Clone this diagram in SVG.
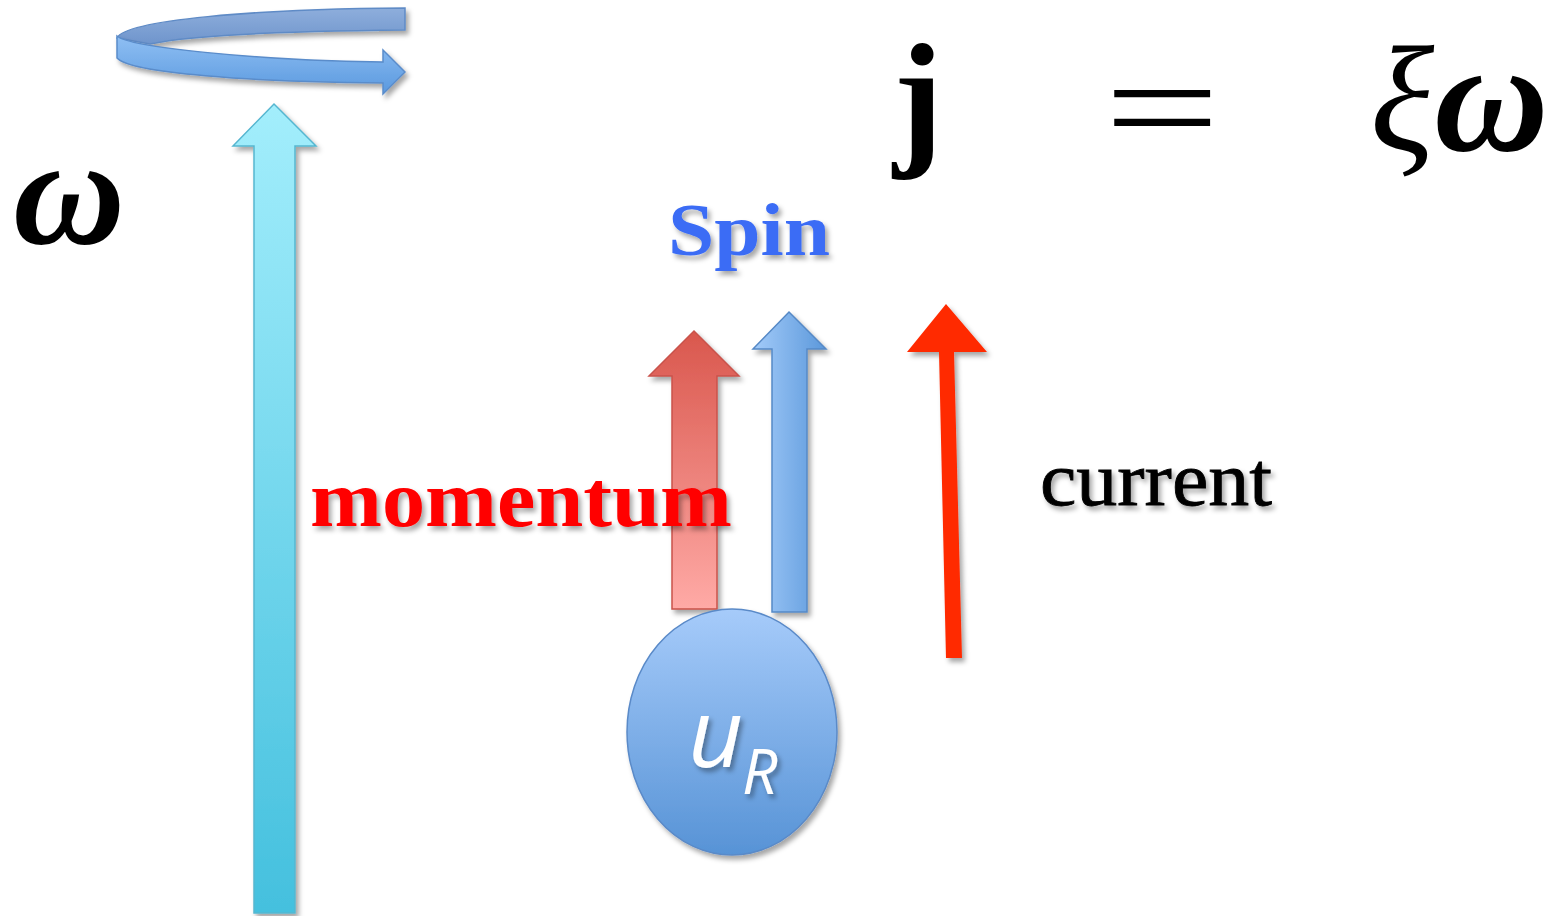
<svg xmlns="http://www.w3.org/2000/svg" width="1560" height="916" viewBox="0 0 1560 916">
<defs>
<linearGradient id="gCyan" x1="0" y1="0" x2="0" y2="1"><stop offset="0" stop-color="#a3eefc"/><stop offset="1" stop-color="#44c0de"/></linearGradient>
<linearGradient id="gRed" x1="0" y1="0" x2="0" y2="1"><stop offset="0" stop-color="#d9574d"/><stop offset="1" stop-color="#ffaaa6"/></linearGradient>
<linearGradient id="gBlueH" x1="0" y1="0" x2="1" y2="0"><stop offset="0" stop-color="#a3cbf9"/><stop offset="1" stop-color="#5b98db"/></linearGradient>
<linearGradient id="gBall" x1="0" y1="0" x2="0" y2="1"><stop offset="0" stop-color="#a6cbfa"/><stop offset="1" stop-color="#5793d6"/></linearGradient>
<linearGradient id="gBand" x1="0" y1="0" x2="0" y2="1"><stop offset="0" stop-color="#8fbff3"/><stop offset="1" stop-color="#5a99df"/></linearGradient>
<linearGradient id="gBack" x1="0" y1="0" x2="0" y2="1"><stop offset="0" stop-color="#8eaedc"/><stop offset="1" stop-color="#6f95cc"/></linearGradient>
<filter id="sh" x="-20%" y="-20%" width="140%" height="140%"><feDropShadow dx="3" dy="4" stdDeviation="2.5" flood-color="#000" flood-opacity="0.35"/></filter>
</defs>
<style>
.serif{font-family:"Liberation Serif","DejaVu Serif",serif}
</style>

<g id="rotation">
<path d="M405,8 L405,30 C300,31 190,35 150,44 L117,38 C125,20 255,9 405,8 Z" fill="url(#gBack)" stroke="#5f8bc6" stroke-width="1.5" filter="url(#sh)"/>
<path d="M117,36 C130,47 250,60 383,62 L383,50 L405,72 L383,94 L383,83 C250,82 130,73 117,58 Z" fill="url(#gBand)" stroke="#5a8cca" stroke-width="1.5" filter="url(#sh)"/>
</g>

<g id="omega-axis">
<path d="M274,104 L316,146 L295,146 L295,913 L254,913 L254,146 L233,146 Z" fill="url(#gCyan)" stroke="#56b6d0" stroke-width="1.5" filter="url(#sh)"/>
</g>

<g id="omega-label">
<text x="13" y="243" class="serif" font-style="italic" font-weight="bold" font-size="155">ω</text>
</g>

<g id="equation">
<text x="893" y="148" class="serif" font-weight="bold" font-size="150">j</text>
<text transform="translate(1162,156) scale(1.43,1)" x="0" y="0" class="serif" font-size="144" text-anchor="middle">=</text>
<text x="1370" y="150" class="serif" font-style="italic" font-size="150">ξ<tspan font-weight="bold" font-size="158">ω</tspan></text>
</g>

<g id="spin-label">
<text x="668" y="255" class="serif" font-weight="bold" font-size="74" fill="#3b6cf5" textLength="162" lengthAdjust="spacingAndGlyphs" filter="url(#sh)">Spin</text>
</g>

<g id="momentum-arrow">
<path d="M694,331 L739,376 L717,376 L717,609 L672,609 L672,376 L649,376 Z" fill="url(#gRed)" stroke="#c9534b" stroke-width="1.5" filter="url(#sh)"/>
</g>

<g id="spin-arrow">
<path d="M789,312 L826,349 L807,349 L807,612 L772,612 L772,349 L753,349 Z" fill="url(#gBlueH)" stroke="#5689c6" stroke-width="1.5" filter="url(#sh)"/>
</g>

<g id="momentum-label">
<text x="310" y="526" class="serif" font-weight="bold" font-size="80" fill="#ff0000" textLength="422" lengthAdjust="spacingAndGlyphs" filter="url(#sh)">momentum</text>
</g>

<g id="current-arrow">
<path d="M946,304 L987,352 L954,352 L962,658 L946,658 L939,352 L907,352 Z" fill="#ff2a00" filter="url(#sh)"/>
</g>

<g id="current-label">
<text x="1040" y="505" class="serif" font-size="76" fill="#000" stroke="#000" stroke-width="0.8" textLength="232" lengthAdjust="spacingAndGlyphs" filter="url(#sh)">current</text>
</g>

<g id="particle">
<ellipse cx="732" cy="732" rx="105" ry="123" fill="url(#gBall)" stroke="#5a8ac8" stroke-width="1.5" filter="url(#sh)"/>
<text x="688" y="767" font-family="'Open Sans','Liberation Sans',sans-serif" font-style="italic" font-size="96" fill="#fff" filter="url(#sh)">u</text>
<text x="742" y="794" font-family="'Open Sans','Liberation Sans',sans-serif" font-style="italic" font-size="62" fill="#fff" filter="url(#sh)">R</text>
</g>
</svg>
